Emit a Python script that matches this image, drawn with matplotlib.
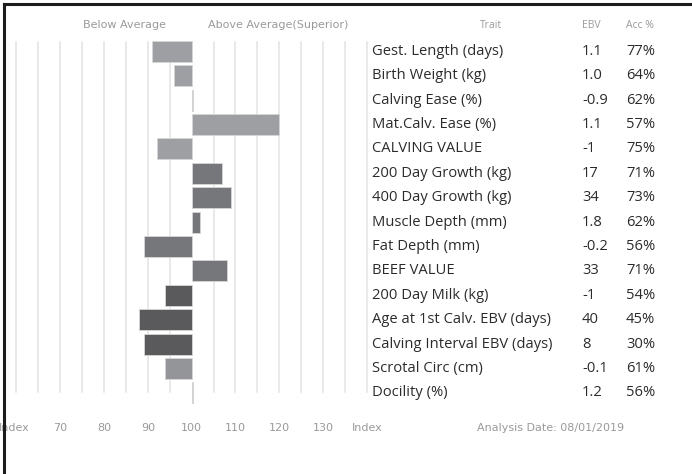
import matplotlib
matplotlib.use("Agg")
import matplotlib.pyplot as plt
from matplotlib.lines import Line2D

# ---- data ----
traits = [
    "Gest. Length (days)", "Birth Weight (kg)", "Calving Ease (%)",
    "Mat.Calv. Ease (%)", "CALVING VALUE", "200 Day Growth (kg)",
    "400 Day Growth (kg)", "Muscle Depth (mm)", "Fat Depth (mm)",
    "BEEF VALUE", "200 Day Milk (kg)", "Age at 1st Calv. EBV (days)",
    "Calving Interval EBV (days)", "Scrotal Circ (cm)", "Docility (%)",
]
ebv = ["1.1", "1.0", "-0.9", "1.1", "-1", "17", "34", "1.8", "-0.2",
       "33", "-1", "40", "8", "-0.1", "1.2"]
acc = ["77%", "64%", "62%", "57%", "75%", "71%", "73%", "62%", "56%",
       "71%", "54%", "45%", "30%", "61%", "56%"]
index_vals = [91, 96, 100.3, 120, 92, 107, 109, 102, 89, 108, 94, 88, 89, 94, 100.3]
bar_colors = ["#9e9fa3", "#9e9fa3", "#8c8d90", "#9e9fa3", "#9e9fa3",
              "#76777a", "#76777a", "#76777a", "#76777a", "#76777a",
              "#5a5a5c", "#5a5a5c", "#5a5a5c", "#949598", "#8c8d90"]
grid_vals = list(range(60, 145, 5))
tick_vals = [60, 70, 80, 90, 100, 110, 120, 130, 140]
tick_labels = ["Index", "70", "80", "90", "100", "110", "120", "130", "Index"]

W, H = 692, 474
fig = plt.figure(figsize=(W / 100, H / 100), dpi=100)
ax = fig.add_axes([0, 0, 1, 1])
ax.set_axis_off()

# pixel mapping: value 100 at x=191.7, 4.38 px per unit; row 0 at y=51.3, 24.4 px per row
px_per_unit = 4.38
x0 = 191.7
ax.set_xlim(100 - x0 / px_per_unit, 100 + (W - x0) / px_per_unit)
row0, row_h = 51.3, 24.4
ax.set_ylim((H - row0) / row_h, -row0 / row_h)

# grid lines
grid_top = (42 - row0) / row_h
grid_bot = (392 - row0) / row_h
for g in grid_vals:
    if g == 100:
        continue
    ax.plot([g, g], [grid_top, grid_bot], color="#e3e3e3", lw=1.1, zorder=1)

# bars
rows = list(range(len(traits)))
widths = [v - 100 for v in index_vals]
ax.barh(rows, widths, left=100, height=0.86, color=bar_colors,
        edgecolor="#d6d6d6", linewidth=0.6, zorder=2)

# headers above bars
hdr_y = (25 - row0) / row_h
grey = "#9a9a9a"
ax.text(100 + (125 - x0) / px_per_unit, hdr_y, "Below Average", ha="center",
        va="center", fontsize=8, color=grey, family="DejaVu Sans")
ax.text(100 + (278 - x0) / px_per_unit, hdr_y, "Above Average(Superior)",
        ha="center", va="center", fontsize=8, color=grey, family="DejaVu Sans")

# x tick labels
tick_y = (428 - row0) / row_h
for v, lab in zip(tick_vals, tick_labels):
    xv = v - 0.4 if v == 60 else v
    ax.text(xv, tick_y, lab, ha="center", va="center", fontsize=8,
            color=grey, family="DejaVu Sans")

# table
tfont = "Open Sans"
trait_x = 100 + (372 - x0) / px_per_unit
ebv_x = 100 + (582 - x0) / px_per_unit
acc_x = 100 + (626 - x0) / px_per_unit
ax.text(100 + (491 - x0) / px_per_unit, hdr_y, "Trait", ha="center",
        va="center", fontsize=7.5, color=grey, family=tfont)
ax.text(ebv_x, hdr_y, "EBV", ha="left", va="center", fontsize=7.5,
        color=grey, family=tfont)
ax.text(acc_x, hdr_y, "Acc %", ha="left", va="center", fontsize=7.5,
        color=grey, family=tfont)
for r, (t, e, a) in zip(rows, zip(traits, ebv, acc)):
    ax.text(trait_x, r, t, ha="left", va="center", fontsize=10.6,
            color="#2b2b2b", family=tfont)
    ax.text(ebv_x, r, e, ha="left", va="center", fontsize=10.6,
            color="#2b2b2b", family=tfont)
    ax.text(acc_x, r, a, ha="left", va="center", fontsize=10.6,
            color="#2b2b2b", family=tfont)

ax.text(100 + (477 - x0) / px_per_unit, tick_y, "Analysis Date: 08/01/2019",
        ha="left", va="center", fontsize=8, color=grey, family="DejaVu Sans")

# black frame on top and left edges
fig.add_artist(Line2D([4 / W, 4 / W], [0, 1 - 4 / H], color="#1c1c1c",
                      lw=2.2, transform=fig.transFigure, zorder=10))
fig.add_artist(Line2D([4 / W, 1], [1 - 4 / H, 1 - 4 / H], color="#1c1c1c",
                      lw=2.2, transform=fig.transFigure, zorder=10))

fig.savefig("out.png", dpi=100, facecolor="white")
